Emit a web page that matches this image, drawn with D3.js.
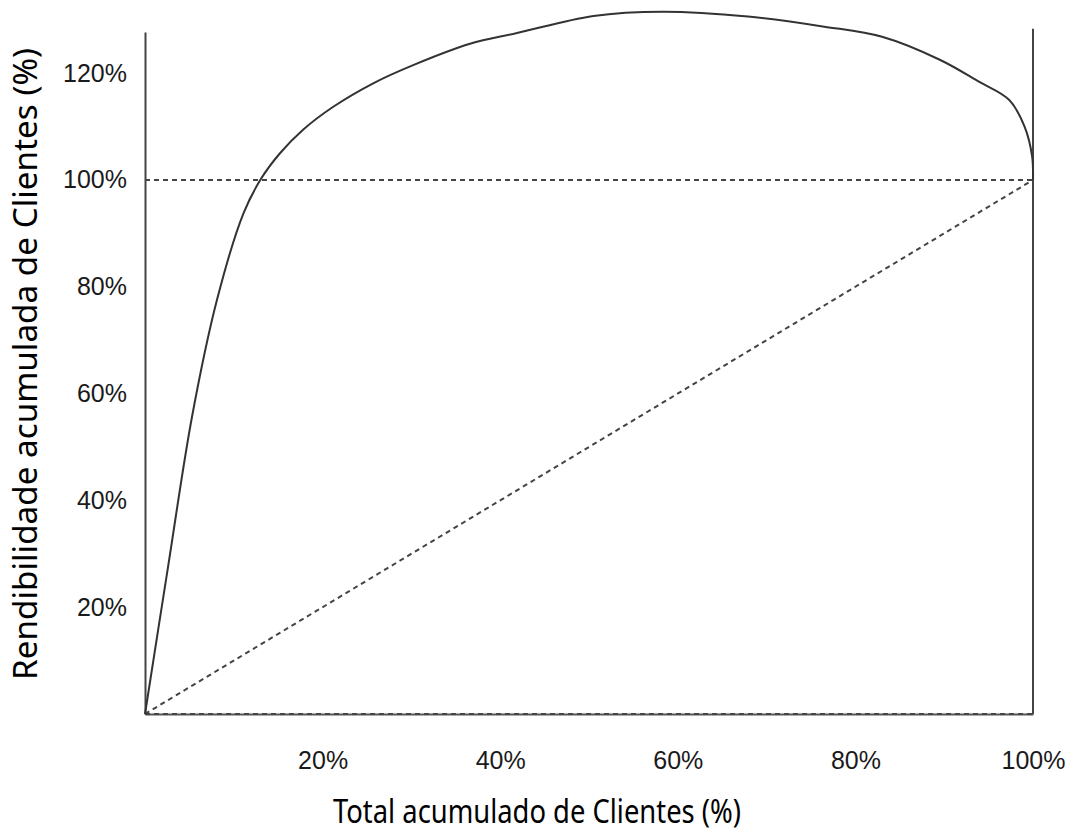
<!DOCTYPE html>
<html>
<head>
<meta charset="utf-8">
<script src="https://cdn.jsdelivr.net/npm/d3@7"></script>
<style>
    body { margin: 0; background: #fff; }
    .tickLabel text { font-family: "Liberation Sans", Arial, sans-serif; font-size: 25px; fill: #1a1a1a; }
    .axis-label { font-family: "Noto Sans", "Open Sans", sans-serif; font-size: 33px; fill: #000; }
</style>
</head>
<body>
<div class="vis"></div>
<script>
// cumulative share of clients (%) and cumulative profitability (%)
const clientsPct = [0, 2.6, 5.3, 8.1, 11.1, 13.1, 15.2, 17.8, 21.2, 25.7, 30.2, 36.6, 41.9, 50.5, 58.3, 67.9, 76.5, 83.0, 89.5, 93.9, 97.3, 99.05, 99.9, 100];
const profitPct  = [0, 27.6, 55.7, 77.5, 93.8, 100.3, 105.0, 109.4, 113.7, 118.1, 121.5, 125.5, 127.5, 130.7, 131.5, 130.6, 128.7, 126.8, 122.5, 118.4, 115.0, 110.0, 104.4, 100];

// reference lines
const diagonal = [[0, 0], [100, 100]];
const hundredLine = [[0, 100], [100, 100]];

const xTicks = [20, 40, 60, 80, 100];
const yTicks = [20, 40, 60, 80, 100, 120];

(function () {
    const svgWidth = 1068;
    const svgHeight = 832;

    const svg = d3.select('.vis')
        .append('svg')
            .attr('width', svgWidth)
            .attr('height', svgHeight);

    var margin = {
        top: 32,
        right: 35,
        left: 145,
        bottom: 118
    };

    var xScale = d3.scaleLinear()
        .domain([0, 100])
        .range([margin.left, svgWidth - margin.right]);

    var yScale = d3.scaleLinear()
        .domain([0, 127.7])
        .range([svgHeight - margin.bottom, margin.top]);

    // y axis (left line + labels)
    var yAxis = d3.axisLeft(yScale)
        .tickValues(yTicks)
        .tickSize(0)
        .tickPadding(18)
        .tickFormat(d => d + '%');

    var callyAxis = svg.append('g')
        .attr('class', 'tickLabel')
        .attr('transform', `translate(${xScale(0)}, 0)`)
        .call(yAxis);
    callyAxis.select('.domain').attr('stroke', '#444').attr('stroke-width', 2);

    // x axis (bottom line + labels)
    var xAxis = d3.axisBottom(xScale)
        .tickValues(xTicks)
        .tickSize(0)
        .tickPadding(37)
        .tickFormat(d => d + '%');

    var callxAxis = svg.append('g')
        .attr('class', 'tickLabel')
        .attr('transform', `translate(0, ${yScale(0)})`)
        .call(xAxis);
    callxAxis.select('.domain').attr('stroke', '#555').attr('stroke-width', 2);

    // right vertical line at 100%
    svg.append('line')
        .attr('x1', xScale(100)).attr('x2', xScale(100))
        .attr('y1', yScale(0)).attr('y2', yScale(128.3))
        .attr('stroke', '#444')
        .attr('stroke-width', 2);

    var line = d3.line()
        .x(d => xScale(d[0]))
        .y(d => yScale(d[1]));

    // dashed reference lines
    [hundredLine, diagonal, [[0, 0], [100, 0]]].forEach(function (pts) {
        svg.append('path')
            .attr('d', line(pts))
            .attr('fill', 'none')
            .attr('stroke', '#444')
            .attr('stroke-width', 2)
            .attr('stroke-dasharray', '5,4');
    });

    // main curve
    var curveData = clientsPct.map((c, i) => [c, profitPct[i]]);
    svg.append('path')
        .datum(curveData)
        .attr('d', line.curve(d3.curveCatmullRom.alpha(0.5)))
        .attr('fill', 'none')
        .attr('stroke', '#333')
        .attr('stroke-width', 2);

    // axis titles
    svg.append('text')
        .attr('class', 'axis-label')
        .attr('text-anchor', 'middle')
        .attr('x', 537)
        .attr('y', 823)
        .attr('textLength', 408)
        .attr('lengthAdjust', 'spacingAndGlyphs')
        .text('Total acumulado de Clientes (%)');

    svg.append('text')
        .attr('class', 'axis-label')
        .attr('text-anchor', 'middle')
        .attr('transform', 'rotate(-90)')
        .attr('x', -364)
        .attr('y', 37)
        .attr('textLength', 632)
        .attr('lengthAdjust', 'spacingAndGlyphs')
        .text('Rendibilidade acumulada de Clientes (%)');

} (d3));
</script>
</body>
</html>
